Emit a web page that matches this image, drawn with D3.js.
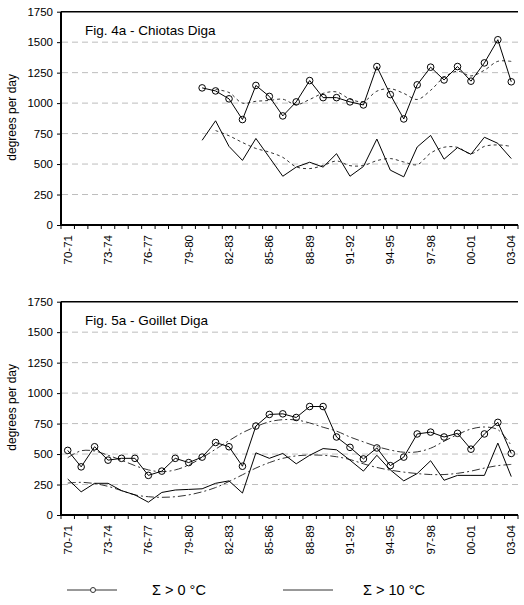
<!DOCTYPE html>
<html><head><meta charset="utf-8">
<script src="https://cdn.jsdelivr.net/npm/d3@7/dist/d3.min.js"></script>
<style>
body{margin:0;background:#fff;}
svg text{font-family:"Liberation Sans",Arial,sans-serif;fill:#000;}
</style></head>
<body>
<svg id="c" width="524" height="605"></svg>
<script>
const categories = ["70-71","71-72","72-73","73-74","74-75","75-76","76-77","77-78","78-79","79-80",
  "80-81","81-82","82-83","83-84","84-85","85-86","86-87","87-88","88-89","89-90",
  "90-91","91-92","92-93","93-94","94-95","95-96","96-97","97-98","98-99","99-00",
  "00-01","01-02","02-03","03-04"];
const yTicks = [0,250,500,750,1000,1250,1500,1750];

// Fig. 4a - Chiotas Diga (data from 80-81)
const chiotasStart = 10;
const chiotasGt0  = [1125,1100,1035,865,1145,1055,895,1010,1185,1045,1045,1010,985,1300,1070,870,1150,1295,1190,1300,1180,1330,1520,1175];
const chiotasGt10 = [695,855,645,530,710,555,400,475,515,475,585,400,480,705,450,395,640,735,540,635,580,720,670,545];
const chiotasTrendStart = 11;
const chiotasTrendGt0  = [1112,1087,1000,1015,1022,1032,987,1030,1080,1092,1033,1013,1098,1118,1080,1030,1105,1212,1262,1223,1270,1343,1342];
const chiotasTrendGt10 = [775,732,677,628,598,555,477,463,488,525,487,488,528,545,517,495,590,638,637,585,645,657,645];

// Fig. 5a - Goillet Diga (data from 70-71)
const goilletStart = 0;
const goilletGt0  = [530,395,560,450,465,465,325,360,465,430,475,595,560,400,730,825,830,800,890,890,640,555,460,550,405,475,665,680,640,670,540,665,760,505];
const goilletGt10 = [295,190,260,260,200,165,105,185,205,210,215,260,280,180,510,465,505,420,490,545,535,450,360,490,370,280,340,445,285,325,325,325,590,315];
const goilletTrendStart = 0;
const goilletTrendGt0  = [470,527,525,490,450,405,370,355,370,410,470,540,610,675,725,765,782,780,755,720,688,640,600,562,533,515,518,548,605,660,705,722,700,570];
const goilletTrendGt10 = [262,268,258,235,200,165,150,145,150,165,190,225,275,330,385,430,465,485,492,490,478,455,420,390,368,352,340,332,332,342,360,385,405,415];

const legendLabels = ["\u03A3 > 0 \u00B0C", "\u03A3 > 10 \u00B0C"];

const svg = d3.select("#c");
const FONT = "Liberation Sans, Arial, sans-serif";

function drawPanel(cfg){
  const x = d3.scaleBand().domain(categories).range([61, 518]).paddingInner(0).paddingOuter(0);
  const bw = x.bandwidth();
  const cx = c => x(c) + bw/2;
  const y = d3.scaleLinear().domain([0,1750]).range([cfg.y0, cfg.y1]);
  const g = svg.append("g");

  // gridlines
  g.selectAll("line.grid").data(yTicks.filter(v => v>0 && v<1750)).enter().append("line")
    .attr("x1", 62).attr("x2", 518).attr("y1", d=>y(d)).attr("y2", d=>y(d))
    .attr("stroke", "#bdbdbd").attr("stroke-width", 1).attr("stroke-dasharray", "6,4");
  // top border
  g.append("line").attr("x1", 61).attr("x2", 518).attr("y1", y(1750)).attr("y2", y(1750))
    .attr("stroke", "#000").attr("stroke-width", 1.5);

  // y axis
  const ya = d3.axisLeft(y).tickValues(yTicks).tickSize(4).tickPadding(4).tickFormat(d3.format("d"));
  const yg = g.append("g").attr("transform", "translate(61,0)").call(ya);
  yg.select(".domain").remove();
  yg.selectAll(".tick line").attr("stroke", "#000");
  yg.selectAll("text").style("font-size", "11.5px").style("font-family", FONT);
  g.append("line").attr("x1", 61).attr("x2", 61).attr("y1", y(1750)).attr("y2", y(0))
    .attr("stroke", "#000").attr("stroke-width", 2);

  // x axis: ticks at category boundaries
  const bounds = categories.map(c => x(c)).concat([x.range()[1]]);
  g.selectAll("line.xt").data(bounds).enter().append("line")
    .attr("x1", d=>d).attr("x2", d=>d).attr("y1", y(0)).attr("y2", y(0)+4)
    .attr("stroke", "#000").attr("stroke-width", 1);
  g.append("line").attr("x1", 60).attr("x2", 518).attr("y1", y(0)).attr("y2", y(0))
    .attr("stroke", "#000").attr("stroke-width", 2);
  // labels every 3rd category
  g.selectAll("text.xl").data(categories.filter((c,i)=> i%3===0)).enter().append("text")
    .attr("transform", d => `translate(${cx(d)+4},${y(0)+10}) rotate(-90)`)
    .attr("text-anchor", "end").style("font-size", "11.5px").text(d=>d);

  // y label
  g.append("text").attr("transform", `translate(16,${(y(0)+y(1750))/2 - 1}) rotate(-90)`)
    .attr("text-anchor", "middle").style("font-size", "12px").text("degrees per day");

  // title
  g.append("text").attr("x", 85).attr("y", y(1750)+23).style("font-size", "13.5px").text(cfg.title);

  const mk = (arr, start) => arr.map((v,i) => ({c: categories[start+i], v}));
  const lin = d3.line().x(d=>cx(d.c)).y(d=>y(d.v));
  const smooth = d3.line().x(d=>cx(d.c)).y(d=>y(d.v)).curve(d3.curveCatmullRom.alpha(0.5));

  // trend lines
  [cfg.trendGt0, cfg.trendGt10].forEach(arr => {
    g.append("path").datum(mk(arr, cfg.trendStart)).attr("d", smooth)
      .attr("fill", "none").attr("stroke", "#333").attr("stroke-width", 1)
      .attr("stroke-dasharray", cfg.trendDash);
  });

  // data lines
  g.append("path").datum(mk(cfg.gt10, cfg.start)).attr("d", lin)
    .attr("fill", "none").attr("stroke", "#000").attr("stroke-width", 1);
  const d0 = mk(cfg.gt0, cfg.start);
  g.append("path").datum(d0).attr("d", lin)
    .attr("fill", "none").attr("stroke", "#000").attr("stroke-width", 1);
  g.selectAll("circle.p").data(d0).enter().append("circle")
    .attr("cx", d=>cx(d.c)).attr("cy", d=>y(d.v)).attr("r", 3.3)
    .attr("fill", "none").attr("stroke", "#000").attr("stroke-width", 1);
}

drawPanel({y0: 225, y1: 11.7, title: "Fig. 4a - Chiotas Diga",
  start: chiotasStart, gt0: chiotasGt0, gt10: chiotasGt10,
  trendStart: chiotasTrendStart, trendGt0: chiotasTrendGt0, trendGt10: chiotasTrendGt10, trendDash: "3,3"});
drawPanel({y0: 515, y1: 301.7, title: "Fig. 5a - Goillet Diga",
  start: goilletStart, gt0: goilletGt0, gt10: goilletGt10,
  trendStart: goilletTrendStart, trendGt0: goilletTrendGt0, trendGt10: goilletTrendGt10, trendDash: "8,3,2,3"});

// legend
const lg = svg.append("g");
const ly = 590;
lg.append("line").attr("x1", 67).attr("x2", 117).attr("y1", ly).attr("y2", ly).attr("stroke", "#333").attr("stroke-width", 1);
lg.append("circle").attr("cx", 93).attr("cy", ly).attr("r", 2.5).attr("fill", "#fff").attr("stroke", "#333").attr("stroke-width", 1);
lg.append("text").attr("x", 152).attr("y", ly+5).style("font-size", "14.5px").text(legendLabels[0]);
lg.append("line").attr("x1", 283).attr("x2", 333).attr("y1", ly).attr("y2", ly).attr("stroke", "#333").attr("stroke-width", 1);
lg.append("text").attr("x", 363).attr("y", ly+5).style("font-size", "14.5px").text(legendLabels[1]);
</script>
</body></html>
